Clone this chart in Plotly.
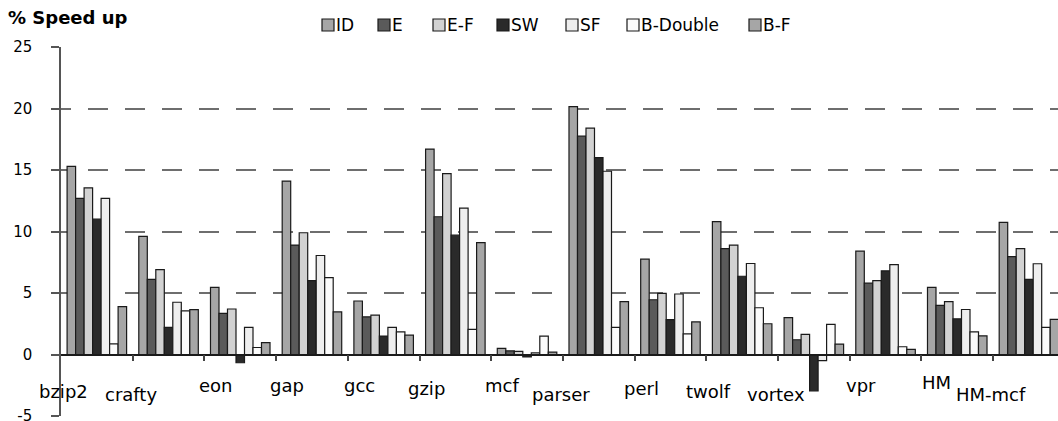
import plotly.graph_objects as go

categories = ["bzip2", "crafty", "eon", "gap", "gcc", "gzip", "mcf", "parser",
              "perl", "twolf", "vortex", "vpr", "HM", "HM-mcf"]

series_names = ["ID", "E", "E-F", "SW", "SF", "B-Double", "B-F"]

ID = [15.3, 9.6, 5.45, 14.1, 4.35, 16.7, 0.5, 20.15, 7.75, 10.8, 3.0, 8.4, 5.45, 10.75]
E = [12.7, 6.1, 3.35, 8.9, 3.06, 11.2, 0.3, 17.75, 4.45, 8.6, 1.2, 5.8, 4.0, 7.95]
E_F = [13.55, 6.9, 3.7, 9.9, 3.2, 14.7, 0.25, 18.4, 4.97, 8.9, 1.63, 6.0, 4.3, 8.6]
SW = [11.0, 2.2, -0.67, 6.0, 1.5, 9.7, -0.2, 16.0, 2.84, 6.36, -2.95, 6.8, 2.9, 6.1]
SF = [12.7, 4.25, 2.2, 8.05, 2.2, 11.9, 0.13, 14.9, 4.92, 7.4, -0.5, 7.3, 3.66, 7.38]
B_Double = [0.87, 3.55, 0.57, 6.25, 1.84, 2.05, 1.5, 2.2, 1.68, 3.8, 2.45, 0.63, 1.84, 2.2]
B_F = [3.9, 3.65, 0.97, 3.46, 1.57, 9.1, 0.2, 4.3, 2.65, 2.5, 0.85, 0.41, 1.52, 2.85]

y_ticks = [-5, 0, 5, 10, 15, 20, 25]

values = [ID, E, E_F, SW, SF, B_Double, B_F]
colors = ["#a6a6a6", "#5a5a5a", "#d2d2d2", "#2a2a2a", "#eeeeee", "#fbfbfb", "#a6a6a6"]

FONT = "DejaVu Sans, Verdana, sans-serif"
LABEL_SIZE = 18

W, H = 1058, 421
ML, MR, MT, MB = 61, 0, 47, 5
PW, PH = W - ML - MR, H - MT - MB


def px_x(xp):  # page px -> paper fraction
    return (xp - ML) / PW


def px_y(yp):
    return (H - MB - yp) / PH


positions = list(range(len(categories)))
boundaries = [i + 0.5 for i in positions]

fig = go.Figure()
for name, vals, col in zip(series_names, values, colors):
    fig.add_trace(go.Bar(
        name=name, x=positions, y=vals, showlegend=False,
        marker=dict(color=col, line=dict(color="#1a1a1a", width=1.2)),
    ))

# legend drawn as swatches + labels
legend_swatch_x = [322, 378, 433, 497, 566, 627, 749]
shapes, annotations = [], []
for name, col, sx in zip(series_names, colors, legend_swatch_x):
    shapes.append(dict(type="rect", xref="paper", yref="paper",
                       x0=px_x(sx), x1=px_x(sx + 12), y0=px_y(31), y1=px_y(19),
                       fillcolor=col, line=dict(color="#1a1a1a", width=1.2)))
    annotations.append(dict(text=name, xref="paper", yref="paper",
                            x=px_x(sx + 13), y=px_y(25), xanchor="left", yanchor="middle",
                            showarrow=False, borderpad=0,
                            font=dict(family=FONT, size=17, color="#000")))

annotations.append(dict(text="<b>% Speed up</b>", xref="paper", yref="paper",
                        x=px_x(7), y=px_y(18), xanchor="left", yanchor="middle",
                        showarrow=False, borderpad=0,
                        font=dict(family=FONT, size=18, color="#000")))

# category labels hanging below-left of each group under the zero line,
# centred where the slanted labels of the original sit
for pos, cat in zip(positions, categories):
    est_len = 0.58 * LABEL_SIZE * len(cat)
    dx = -8 - (0.839 * est_len + 7) / 2
    dy = -(17 + (0.545 * est_len + 11) / 2)
    annotations.append(dict(text=cat, xref="x", yref="y", x=pos, y=0,
                            xanchor="center", yanchor="middle", xshift=dx, yshift=dy,
                            showarrow=False, borderpad=0, borderwidth=0,
                            font=dict(family=FONT, size=LABEL_SIZE, color="#000")))

fig.update_layout(
    width=W, height=H,
    margin=dict(l=ML, r=MR, t=MT, b=MB, pad=0),
    paper_bgcolor="white", plot_bgcolor="white",
    barmode="group", bargap=0.17, bargroupgap=0,
    font=dict(family=FONT, size=16, color="#000"),
    showlegend=False,
    shapes=shapes, annotations=annotations,
)

fig.update_yaxes(
    range=[-5, 25], tickvals=y_ticks, ticktext=[str(v) for v in y_ticks],
    showgrid=True, gridcolor="#6e6e6e", gridwidth=1.5, griddash="10px,17px,10px,0px",
    zeroline=False, showline=True, linecolor="#555", linewidth=1.5,
    ticks="outside", ticklen=8, tickcolor="#555", tickwidth=1.5,
    tickfont=dict(family=FONT, size=15, color="#000"),
    ticklabelstandoff=16, ticklabeloverflow="allow", automargin=False,
)

fig.update_xaxes(
    range=[-0.5, PW / 71.7 - 0.5],
    tickmode="array", tickvals=positions, ticktext=categories, showticklabels=False,
    anchor="free", position=5 / 30,
    showline=True, linecolor="#1a1a1a", linewidth=1.5,
    ticks="",
    minor=dict(tickmode="array", tickvals=boundaries, ticks="outside", ticklen=6,
               tickcolor="#444", tickwidth=1.5, showgrid=False),
    showgrid=False, zeroline=False, automargin=False,
)

fig.write_html(
    "out.html",
    config={"displayModeBar": False},
    post_script="document.body.style.margin='0';"
                "document.documentElement.style.overflow='hidden';",
)
